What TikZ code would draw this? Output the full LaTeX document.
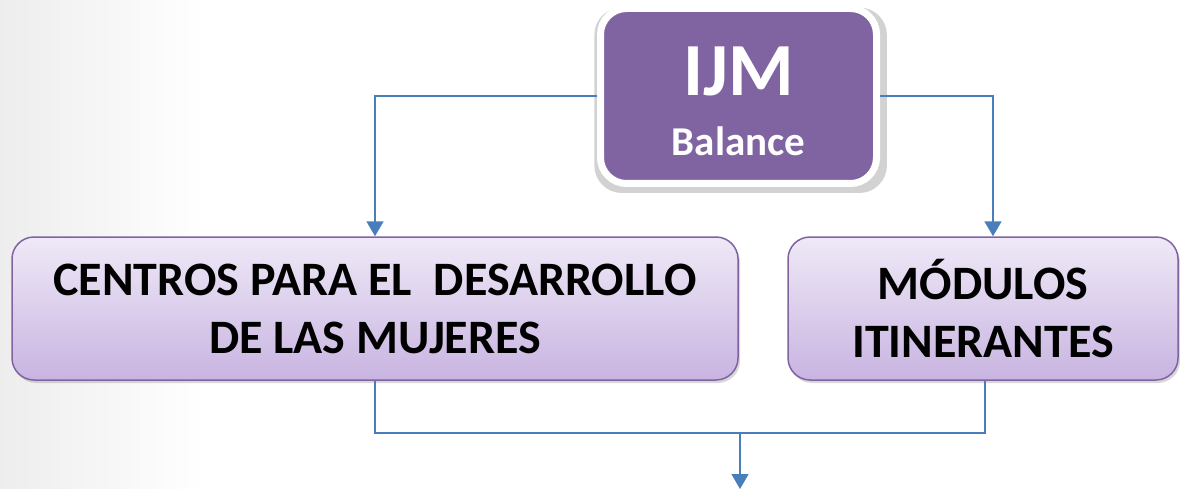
\documentclass[tikz,border=0pt]{standalone}
\usepackage{fontspec}
\setmainfont{Carlito}
\usetikzlibrary{arrows.meta,shadows}
\definecolor{lineblue}{HTML}{4A7EBB}
\definecolor{ijmpurple}{HTML}{8064A2}
\definecolor{boxtop}{HTML}{EFE9F7}
\definecolor{boxbot}{HTML}{C8B4E1}
\tikzset{
  ijmbox/.style={draw=white,line width=7pt,fill=ijmpurple,rounded corners=26pt,
    minimum width=276pt,minimum height=175pt,text=white,
    font=\fontsize{41}{60}\selectfont\bfseries,align=center,
    drop shadow={shadow scale=1.06,shadow xshift=2pt,shadow yshift=-4pt,opacity=0.35}},
  unitbox/.style={draw=ijmpurple,line width=1.5pt,top color=boxtop,bottom color=boxbot,
    rounded corners=22pt,minimum height=143pt,font=\fontsize{48}{58}\selectfont\bfseries,
    align=center,drop shadow={shadow xshift=2pt,shadow yshift=-3pt,opacity=0.3}},
  link/.style={draw=lineblue,line width=1.6pt},
  arr/.style={link,-{Triangle[width=17pt,length=15pt]}}
}
\begin{document}
\begin{tikzpicture}[x=1pt,y=-1pt]
				\useasboundingbox (0,0) rectangle (1180,489);
				\fill[white] (0,0) rectangle (1180,489);
				\shade[left color=gray!14,right color=white] (0,0) rectangle (205,489);
				\node[ijmbox] (ijm) at (738.5,96) {\rule{0pt}{60pt}{\fontsize{75}{60}\selectfont IJM}\\Balance};
				\node[unitbox,minimum width=726pt] (centros) at (375,308.5) {CENTROS PARA EL \ DESARROLLO\\DE LAS MUJERES};
				\node[unitbox,minimum width=390pt] (modulos) at (983,308.5) {MÓDULOS\\ITINERANTES};
				\coordinate (join) at (740,433);
				\coordinate (out) at (740,489);
				\draw[arr] (ijm.west) -| (centros.north);
				\draw[arr] (ijm.east) -| ([xshift=10pt]modulos.north);
				\draw[link] (centros.south) |- (join) -| ([xshift=2pt]modulos.south);
				\draw[arr] (join) -- (out);
			\end{tikzpicture}
\end{document}
